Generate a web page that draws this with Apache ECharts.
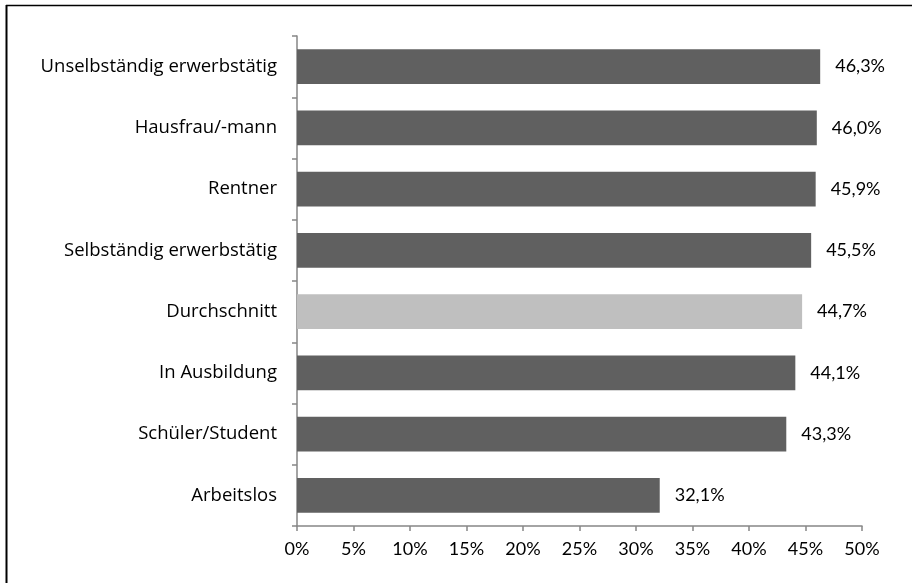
<!DOCTYPE html>
<html>
<head>
<meta charset="utf-8">
<script src="https://cdn.jsdelivr.net/npm/echarts@6/dist/echarts.min.js"></script>
<style>
  html, body { margin: 0; padding: 0; background: #fff; }
  #chart { width: 912px; height: 583px; }
</style>
</head>
<body>
<div id="chart"></div>
<script>
// Categories listed top to bottom
const categories = [
  'Unselbständig erwerbstätig',
  'Hausfrau/-mann',
  'Rentner',
  'Selbständig erwerbstätig',
  'Durchschnitt',
  'In Ausbildung',
  'Schüler/Student',
  'Arbeitslos'
];
// Shares in percent
const values = [46.3, 46.0, 45.9, 45.5, 44.7, 44.1, 43.3, 32.1];
const highlightCategory = 'Durchschnitt';
const xTicks = [0, 5, 10, 15, 20, 25, 30, 35, 40, 45, 50];

const TEXT_FONT = '"Open Sans", Lato, sans-serif';
const NUM_FONT = 'Lato, "Open Sans", sans-serif';
const fmt = v => v.toFixed(1).replace('.', ',') + '%';

const chart = echarts.init(document.getElementById('chart'), null, { renderer: 'canvas' });
chart.setOption({
  animation: false,
  backgroundColor: '#ffffff',
  grid: { left: 297, right: 50, top: 36, bottom: 57, containLabel: false },
  xAxis: {
    type: 'value',
    min: xTicks[0],
    max: xTicks[xTicks.length - 1],
    interval: 5,
    axisLine: { show: true, lineStyle: { color: '#868686', width: 1.5 } },
    axisTick: { show: true, length: 5, lineStyle: { color: '#868686', width: 1.5 } },
    splitLine: { show: false },
    axisLabel: {
      margin: 14,
      color: '#000',
      fontFamily: NUM_FONT,
      fontSize: 18,
      formatter: v => v + '%'
    }
  },
  yAxis: {
    type: 'category',
    data: categories,
    inverse: true,
    axisLine: { show: true, lineStyle: { color: '#868686', width: 1.5 } },
    axisTick: { show: true, length: 5, lineStyle: { color: '#868686', width: 1.5 } },
    axisLabel: {
      margin: 20,
      color: '#000',
      fontFamily: TEXT_FONT,
      fontSize: 18.5
    }
  },
  series: [{
    type: 'bar',
    data: values.map((v, i) => ({
      value: v,
      itemStyle: { color: categories[i] === highlightCategory ? '#bfbfbf' : '#606060' }
    })),
    barCategoryGap: '43%',
    label: {
      show: true,
      position: 'right',
      distance: 15,
      color: '#000',
      fontFamily: NUM_FONT,
      fontSize: 18,
      formatter: p => fmt(p.value)
    }
  }],
  graphic: [
    { type: 'line', shape: { x1: 6.5, y1: 5, x2: 6.5, y2: 583 }, style: { stroke: '#000', lineWidth: 2 } },
    { type: 'line', shape: { x1: 6, y1: 5.5, x2: 912, y2: 5.5 }, style: { stroke: '#000', lineWidth: 1.5 } }
  ]
});
</script>
</body>
</html>
